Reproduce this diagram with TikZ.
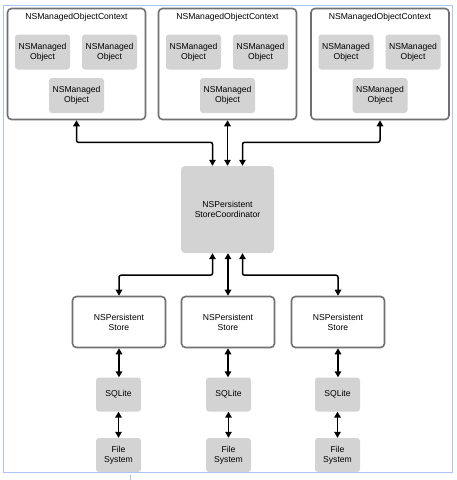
\documentclass[tikz,border=0pt]{standalone}
\usepackage{fontspec}
\setmainfont{Liberation Sans}
\usetikzlibrary{arrows.meta,calc}
\definecolor{boxgray}{HTML}{D3D3D3}
\definecolor{edgegray}{HTML}{707070}
\definecolor{frameblue}{HTML}{A9C4F5}
\begin{document}
\begin{tikzpicture}[x=1pt,y=-1pt,
  every node/.style={font=\fontsize{8.6}{10}\selectfont, align=center, inner sep=0pt},
  ctxbox/.style={draw=edgegray, line width=1.6pt, fill=white, rounded corners=4pt, minimum width=138pt, minimum height=111pt},
  objbox/.style={fill=boxgray, rounded corners=3pt, minimum width=55pt, minimum height=35pt},
  storebox/.style={draw=edgegray, line width=1.6pt, fill=white, rounded corners=4pt, minimum width=93pt, minimum height=51pt},
  smallbox/.style={fill=boxgray, rounded corners=3pt, minimum width=45pt, minimum height=34pt},
  coordbox/.style={fill=boxgray, rounded corners=4pt, minimum width=93pt, minimum height=87pt},
  arr/.style={{Triangle[length=6pt,width=6.5pt]}-{Triangle[length=6pt,width=6.5pt]}, line width=1.5pt, black, rounded corners=2pt}
]
\useasboundingbox (0,0) rectangle (456,480);
\fill[white] (0,0) rectangle (456,480);

% contexts
\foreach \n/\cx in {1/76.5,2/227.5,3/380}{
  \node[ctxbox] (c\n) at (\cx,64) {};
  \node (t\n) at (\cx,17) {NSManagedObjectContext};
  \node[objbox] (o\n a) at (\cx-34,52) {NSManaged\\Object};
  \node[objbox] (o\n b) at (\cx+33,52) {NSManaged\\Object};
  \node[objbox] (o\n c) at (\cx,95.5) {NSManaged\\Object};
}

% coordinator
\node[coordbox] (co) at (227.5,209.5) {NSPersistent\\StoreCoordinator};

% stores, sqlite, file systems
\foreach \n/\sx/\qx in {1/119/118.5,2/228/228.5,3/338/337.5}{
  \node[storebox] (s\n) at (\sx,322) {NSPersistent\\Store};
  \node[smallbox] (q\n) at (\qx,394.5) {SQLite};
  \node[smallbox] (f\n) at (\qx,455) {File\\System};
  \draw[arr] (s\n.south) -- (s\n.south |- q\n.north);
  \draw[arr] (q\n.south) -- (q\n.south |- f\n.north);
}

% context <-> coordinator
\draw[arr] (c1.south) -- ++(0,22) -| ([xshift=-15pt]co.north);
\draw[arr] (c2.south) -- (c2.south |- co.north);
\draw[arr] (c3.south) -- ++(0,22) -| ([xshift=15pt]co.north);

% coordinator <-> stores
\draw[arr] ([xshift=-15pt]co.south) -- ++(0,22) -| (s1.north);
\draw[arr] (co.south -| s2.north) -- (s2.north);
\draw[arr] ([xshift=15pt]co.south) -- ++(0,22) -| (s3.north);

% frame
\draw[frameblue, line width=1pt] (3.5,5) rectangle (452.5,472.5);
\draw[frameblue, line width=1pt] (130,474.5) -- (130,480);
\end{tikzpicture}
\end{document}
